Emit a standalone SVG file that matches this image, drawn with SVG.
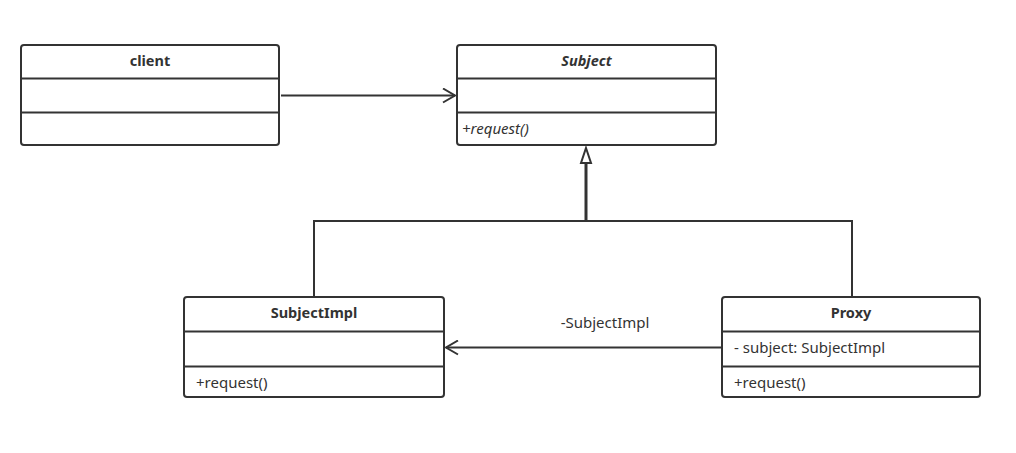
<svg xmlns="http://www.w3.org/2000/svg" width="1016" height="453" viewBox="0 0 1016 453">
<style>
.box{fill:#fff;stroke:#333;stroke-width:2}
.div{stroke:#333;stroke-width:2}
.t{font-family:"Noto Sans","Open Sans",sans-serif;font-size:14.5px;fill:#333}
.title{font-weight:bold;text-anchor:middle}
.m{font-size:15px}
.conn{stroke:#333;stroke-width:2;fill:none}
</style>
<defs>
<marker id="open" markerWidth="16" markerHeight="16" refX="13" refY="8" orient="auto" markerUnits="userSpaceOnUse">
<path d="M1,1 L13,8 L1,15" fill="none" stroke="#333" stroke-width="2"/>
</marker>
</defs>
<rect x="0" y="0" width="1016" height="453" fill="#fff"/>
<g id="connectors">
<line class="conn" x1="281" y1="95.5" x2="455" y2="95.5" marker-end="url(#open)"/>
<polyline class="conn" points="314,297 314,221 852,221 852,297"/>
<line class="conn" x1="586" y1="221" x2="586" y2="163" style="stroke-width:3"/>
<path d="M586,148 L591,163 L581,163 Z" fill="#fff" stroke="#333" stroke-width="2"/>
<line class="conn" x1="721" y1="347.5" x2="446" y2="347.5" marker-end="url(#open)"/>
<text class="t m" x="605" y="328" text-anchor="middle">-SubjectImpl</text>
</g>
<g id="client">
<rect class="box" x="21" y="45" width="258" height="100" rx="3"/>
<line class="div" x1="21" y1="78.5" x2="279" y2="78.5"/>
<line class="div" x1="21" y1="112.5" x2="279" y2="112.5"/>
<text class="t title" x="150" y="66">client</text>
</g>
<g id="Subject">
<rect class="box" x="457" y="45" width="259" height="100" rx="3"/>
<line class="div" x1="457" y1="78.5" x2="716" y2="78.5"/>
<line class="div" x1="457" y1="112.5" x2="716" y2="112.5"/>
<text class="t title" x="586.5" y="66" font-style="italic">Subject</text>
<text class="t m" x="462" y="134" font-style="italic">+request()</text>
</g>
<g id="SubjectImpl">
<rect class="box" x="184" y="297" width="260" height="100" rx="3"/>
<line class="div" x1="184" y1="331.5" x2="444" y2="331.5"/>
<line class="div" x1="184" y1="366.5" x2="444" y2="366.5"/>
<text class="t title" x="314" y="318">SubjectImpl</text>
<text class="t m" x="196" y="388">+request()</text>
</g>
<g id="Proxy">
<rect class="box" x="722" y="297" width="258" height="100" rx="3"/>
<line class="div" x1="722" y1="331.5" x2="980" y2="331.5"/>
<line class="div" x1="722" y1="366.5" x2="980" y2="366.5"/>
<text class="t title" x="851" y="318">Proxy</text>
<text class="t m" x="734" y="353">- subject: SubjectImpl</text>
<text class="t m" x="734" y="388">+request()</text>
</g>
</svg>
